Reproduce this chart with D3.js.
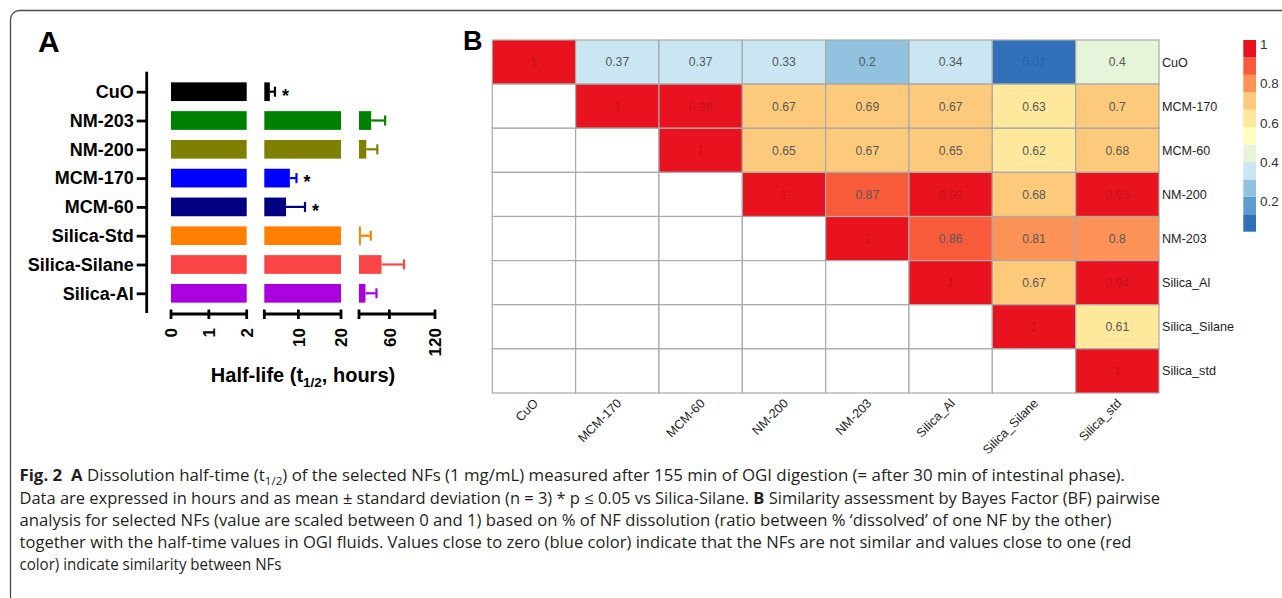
<!DOCTYPE html>
<html><head><meta charset="utf-8">
<script src="https://cdn.jsdelivr.net/npm/d3@7"></script>
<style>body{margin:0;background:#fff;} svg{display:block;} text{white-space:pre;}</style>
</head><body>
<svg id="c" width="1282" height="598"></svg>
<script>
// ---------- Panel A data ----------
const categoriesA = ["CuO","NM-203","NM-200","MCM-170","MCM-60","Silica-Std","Silica-Silane","Silica-Al"];
const halfLifeMean = [3.3, 36, 29.6, 8.0, 7.1, 22.5, 49.6, 28.5];
const halfLifeSD   = [1.2, 18.4, 14.5, 1.55, 4.45, 13, 29.7, 14.5];
const significantVsSilane = [true, false, false, true, true, false, false, false];
const axisSegments = [[0,2],[2,20],[20,120]];
const segmentTicks = [[0,1,2],[2,10,20],[20,60,120]];
const segmentTickLabels = [["0","1","2"],["","10","20"],["","60","120"]];

// ---------- Panel B data ----------
const heatLabels = ["CuO","MCM-170","MCM-60","NM-200","NM-203","Silica_Al","Silica_Silane","Silica_std"];
const bfMatrix = [
  [1, 0.37, 0.37, 0.33, 0.2, 0.34, 0.01, 0.4],
  [null, 1, 0.98, 0.67, 0.69, 0.67, 0.63, 0.7],
  [null, null, 1, 0.65, 0.67, 0.65, 0.62, 0.68],
  [null, null, null, 1, 0.87, 0.99, 0.68, 0.93],
  [null, null, null, null, 1, 0.86, 0.81, 0.8],
  [null, null, null, null, null, 1, 0.67, 0.94],
  [null, null, null, null, null, null, 1, 0.61],
  [null, null, null, null, null, null, null, 1]
];
const legendTicks = [0.2, 0.4, 0.6, 0.8, 1];
const legendTickLabels = ["0.2","0.4","0.6","0.8","1"];
const colorDomain = [0.02, 1];

// ---------- styles ----------
const barColors = ["#000000","#008000","#808000","#0000FF","#000080","#FF8000","#FA4446","#AA00E0"];
const heatPalette = ["#3171BA","#5D9DCE","#91C3E0","#CAE6F3","#E6F5DA","#FFFEC0","#FEE89B","#FDCA7B","#FC9255","#F85B3A","#E9131F"];
const ARIAL = "'Liberation Sans', Arial, Helvetica, sans-serif";
const CAPFONT = "'Open Sans', 'Noto Sans', sans-serif";

const svg = d3.select("#c");

// outer frame (rounded corner)
svg.append("rect").attr("x",10.5).attr("y",10.5).attr("width",1400).attr("height",700)
  .attr("rx",9).attr("fill","none").attr("stroke","#4a4a4a").attr("stroke-width",1.3);

// ================= Panel A =================
const gA = svg.append("g").attr("font-family", ARIAL);
gA.append("text").attr("x",38).attr("y",52).attr("font-size",30).attr("font-weight","bold").text("A");

const y = d3.scalePoint().domain(categoriesA).range([91.7, 293.3]);
const segRanges = [[171,246.7],[264.3,341],[359,435]];
const xs = axisSegments.map((d,i)=>d3.scaleLinear().domain(d).range(segRanges[i]));
const barH = 18.7;

// bars in each broken segment
xs.forEach((sc) => {
  const [d0, d1] = sc.domain();
  categoriesA.forEach((c, i) => {
    const v = halfLifeMean[i];
    if (v <= d0) return;
    gA.append("rect")
      .attr("x", sc(d0)).attr("y", y(c) - barH/2)
      .attr("width", sc(Math.min(v, d1)) - sc(d0)).attr("height", barH)
      .attr("fill", barColors[i]);
  });
});

// error bars and asterisks
categoriesA.forEach((c, i) => {
  const m = halfLifeMean[i], hi = m + halfLifeSD[i];
  const sc = xs.find(s => m >= s.domain()[0] && m <= s.domain()[1]);
  const yc = y(c);
  gA.append("line").attr("x1", sc(m)).attr("x2", sc(hi)).attr("y1", yc).attr("y2", yc)
    .attr("stroke", barColors[i]).attr("stroke-width", 2.2);
  gA.append("line").attr("x1", sc(hi)).attr("x2", sc(hi)).attr("y1", yc-5).attr("y2", yc+5)
    .attr("stroke", barColors[i]).attr("stroke-width", 2.2);
  if (significantVsSilane[i]) {
    gA.append("text").attr("x", sc(hi) + 7).attr("y", yc + 10)
      .attr("font-size", 18).attr("font-weight","bold").text("*");
  }
});

// y axis
const yAxis = gA.append("g").attr("transform","translate(146.7,0)")
  .call(d3.axisLeft(y).tickSize(10).tickSizeOuter(0).tickPadding(3));
yAxis.attr("font-family", ARIAL).attr("font-size", 18).attr("font-weight","bold");
yAxis.select(".domain").remove();
yAxis.append("line").attr("x1",0).attr("x2",0).attr("y1",71.7).attr("y2",313)
  .attr("stroke","#000").attr("stroke-width",2.8);
yAxis.selectAll(".tick line").attr("stroke","#000").attr("stroke-width",2.8);
yAxis.selectAll(".tick text").attr("fill","#000");

// broken x axis
xs.forEach((sc, i) => {
  const g = gA.append("g").attr("transform","translate(0,314)");
  g.append("line").attr("x1", sc.range()[0]).attr("x2", sc.range()[1])
    .attr("stroke","#000").attr("stroke-width",2.8);
  segmentTicks[i].forEach((t, j) => {
    g.append("line").attr("x1", sc(t)).attr("x2", sc(t)).attr("y1",-4.5).attr("y2",5)
      .attr("stroke","#000").attr("stroke-width",2.8);
    if (segmentTickLabels[i][j]) {
      g.append("text").attr("transform", `translate(${sc(t)},14) rotate(-90)`)
        .attr("text-anchor","end").attr("dy","0.36em")
        .attr("font-size",17).attr("font-weight","bold").text(segmentTickLabels[i][j]);
    }
  });
});

// x-axis title
const xt = gA.append("text").attr("x",303).attr("y",382).attr("text-anchor","middle")
  .attr("font-size",20).attr("font-weight","bold");
xt.append("tspan").text("Half-life (t");
xt.append("tspan").attr("font-size",13.5).attr("dy",5).text("1/2");
xt.append("tspan").attr("dy",-5).text(", hours)");

// ================= Panel B =================
const gB = svg.append("g").attr("font-family", ARIAL);
gB.append("text").attr("x",463).attr("y",49.5).attr("font-size",27).attr("font-weight","bold").text("B");

const hx = d3.scaleBand().domain(heatLabels).range([492.3, 1159]);
const hy = d3.scaleBand().domain(heatLabels).range([40, 393]);
const color = d3.scaleQuantize().domain(colorDomain).range(heatPalette);

bfMatrix.forEach((row, r) => {
  row.forEach((v, cI) => {
    const cx = hx(heatLabels[cI]), cy = hy(heatLabels[r]);
    const fill = v === null ? "#ffffff" : color(v);
    gB.append("rect").attr("x", cx).attr("y", cy).attr("width", hx.bandwidth()).attr("height", hy.bandwidth())
      .attr("fill", fill).attr("stroke","#A9A9A9").attr("stroke-width",1.2);
    if (v !== null) {
      const idx = heatPalette.indexOf(fill);
      const tcol = (idx === 10 || idx === 0) ? d3.color(fill).darker(0.45).formatHex() : "#585858";
      gB.append("text").attr("x", cx + hx.bandwidth()/2).attr("y", cy + hy.bandwidth()/2)
        .attr("dy","0.36em").attr("text-anchor","middle").attr("font-size",12.2)
        .attr("fill", tcol).text(String(v));
    }
  });
});

// row labels (right)
heatLabels.forEach(l => {
  gB.append("text").attr("x", 1162).attr("y", hy(l) + hy.bandwidth()/2).attr("dy","0.36em")
    .attr("font-size",12.6).attr("fill","#1e1e1e").text(l);
});
// column labels (bottom, rotated)
heatLabels.forEach(l => {
  gB.append("text").attr("transform", `translate(${hx(l) + hx.bandwidth()/2 + 5},${404}) rotate(-45)`)
    .attr("text-anchor","end").attr("font-size",12.6).attr("fill","#1e1e1e").text(l);
});

// legend
const ly = d3.scaleLinear().domain(colorDomain).range([231.7, 40]);
heatPalette.forEach(c => {
  const [lo, hi] = color.invertExtent(c);
  gB.append("rect").attr("x",1243.3).attr("y", ly(hi)).attr("width",12.7).attr("height", ly(lo) - ly(hi))
    .attr("fill", c);
});
legendTicks.forEach((t, i) => {
  gB.append("text").attr("x",1260).attr("y", ly(t) + 4.5).attr("dy","0.36em")
    .attr("font-size",13.5).attr("fill","#333").text(legendTickLabels[i]);
});

// ================= Caption =================
const capLines = [
  { y: 481.3, w: 1105.5, parts: [
    {t:"Fig. 2", b:true}, {t:"  "}, {t:"A", b:true},
    {t:" Dissolution half-time (t"}, {t:"1/2", sub:true}, {t:") of the selected NFs (1 mg/mL) measured after 155 min of OGI digestion (= after 30 min of intestinal phase).", back:true}
  ]},
  { y: 503.5, w: 1140.5, parts: [
    {t:"Data are expressed in hours and as mean ± standard deviation (n = 3) * p ≤ 0.05 vs Silica-Silane. "},
    {t:"B", b:true}, {t:" Similarity assessment by Bayes Factor (BF) pairwise"}
  ]},
  { y: 525.7, w: 1092, parts: [
    {t:"analysis for selected NFs (value are scaled between 0 and 1) based on % of NF dissolution (ratio between % \u2018dissolved\u2019 of one NF by the other)"}
  ]},
  { y: 548, w: 1112, parts: [
    {t:"together with the half-time values in OGI fluids. Values close to zero (blue color) indicate that the NFs are not similar and values close to one (red"}
  ]},
  { y: 570.4, w: 262, parts: [
    {t:"color) indicate similarity between NFs"}
  ]}
];
const gC = svg.append("g").attr("font-family", CAPFONT).attr("fill","#231f20");
capLines.forEach(line => {
  const t = gC.append("text").attr("x",19.5).attr("y",line.y).attr("font-size",16)
    .attr("textLength", line.w).attr("lengthAdjust","spacingAndGlyphs");
  line.parts.forEach(p => {
    const ts = t.append("tspan").text(p.t);
    if (p.b) ts.attr("font-weight","bold");
    if (p.sub) ts.attr("font-size",11).attr("dy",4);
    if (p.back) ts.attr("dy",-4);
  });
});
</script>
</body></html>
